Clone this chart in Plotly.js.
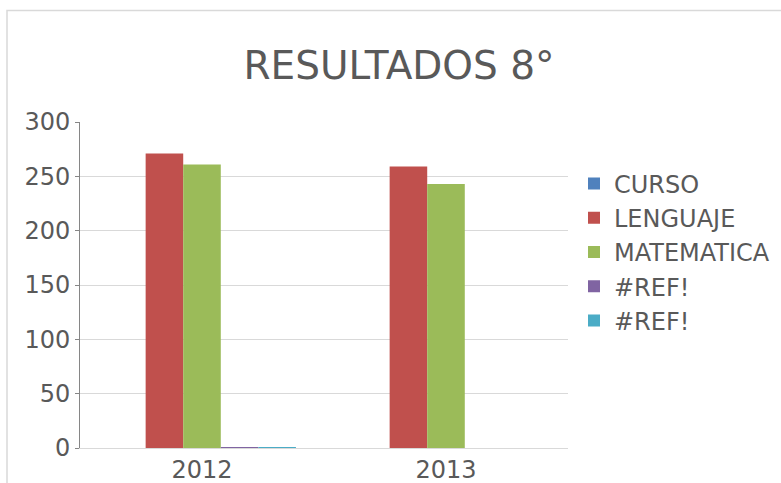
<!DOCTYPE html>
<html>
<head>
<meta charset="utf-8">
<script src="https://cdn.plot.ly/plotly-3.0.1.min.js"></script>
<style>html,body{margin:0;padding:0;background:#fff;}</style>
</head>
<body>
<div id="chart" style="width:781px;height:483px;"></div>
<script>
const categories = ['2012', '2013'];
const seriesNames = ['CURSO', 'LENGUAJE', 'MATEMATICA', '#REF!', '#REF!'];
const curso = [0, 0];
const lenguaje = [271, 259];
const matematica = [261, 243];
const ref1 = [1, 0];
const ref2 = [1, 0];
const colors = ['#4F81BD', '#C0504D', '#9BBB59', '#8064A2', '#4BACC6'];
const yTicks = [0, 50, 100, 150, 200, 250, 300];

const values = [curso, lenguaje, matematica, ref1, ref2];
const traces = values.map((v, i) => ({
  type: 'bar',
  name: seriesNames[i],
  x: categories,
  y: v,
  marker: {color: colors[i], line: {width: 0}},
  hoverinfo: 'y'
}));

const font = {family: 'DejaVu Sans, sans-serif', color: '#595959', size: 24};

const layout = {
  width: 781, height: 483,
  margin: {l: 80, r: 213, t: 122, b: 35, pad: 0, autoexpand: false},
  paper_bgcolor: '#ffffff', plot_bgcolor: '#ffffff',
  font: font,
  title: {text: 'RESULTADOS 8°', font: {family: 'DejaVu Sans, sans-serif', size: 39, color: '#595959'},
          x: 399/781, xanchor: 'center', xref: 'container', y: 1 - 65/483, yanchor: 'middle', yref: 'container'},
  barmode: 'group', bargap: 0.23, bargroupgap: 0,
  showlegend: true,
  legend: {xref: 'container', yref: 'container', x: 574/781, y: 1 - 252/483, xanchor: 'left', yanchor: 'middle',
           font: {family: 'DejaVu Sans, sans-serif', size: 24, color: '#595959'},
           bgcolor: 'rgba(0,0,0,0)', traceorder: 'normal', itemwidth: 30},
  xaxis: {type: 'category', showgrid: false, showline: true, linecolor: '#D9D9D9', linewidth: 1,
          ticks: '', tickfont: {size: 24}, zeroline: false},
  yaxis: {range: [0, 300], tickvals: yTicks, ticktext: yTicks.map(String), showgrid: true, gridcolor: '#D9D9D9', gridwidth: 1,
          showline: true, linecolor: '#868686', linewidth: 1, ticks: 'outside', ticklen: 4, tickcolor: '#868686',
          tickfont: {size: 24}, zeroline: false},
  shapes: [{type: 'rect', xref: 'paper', yref: 'paper', x0: (7 - 80) / 488, x1: 1.6, y0: -0.3, y1: (448 - 10.5) / 326,
            line: {color: '#D9D9D9', width: 1.5}, fillcolor: 'rgba(0,0,0,0)', layer: 'below'}]
};

Plotly.newPlot('chart', traces, layout, {staticPlot: true, displayModeBar: false});
</script>
</body>
</html>
